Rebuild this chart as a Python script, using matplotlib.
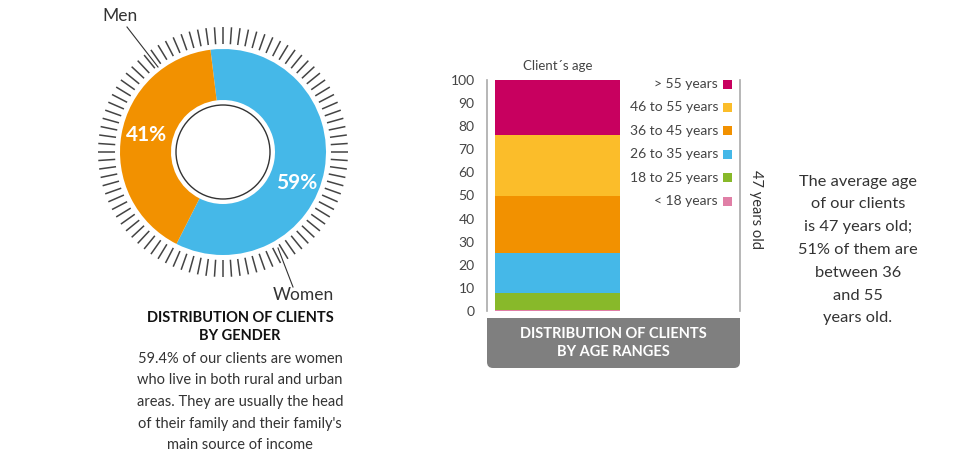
import numpy as np
import matplotlib
matplotlib.use("Agg")
import matplotlib.pyplot as plt
from matplotlib.patches import Circle, Rectangle, FancyBboxPatch

plt.rcParams['font.family'] = ['Lato', 'DejaVu Sans']

# data
gender_labels = ["Women", "Men"]
gender_share = [59.4, 40.6]
gender_pct_text = ["59%", "41%"]
gender_colors = ["#45b8e8", "#f29100"]

age_ranges = ["< 18 years", "18 to 25 years", "26 to 35 years",
              "36 to 45 years", "46 to 55 years", "> 55 years"]
age_share = [0.6, 7.4, 17, 25, 26, 24]
age_colors = ["#e07fa6", "#88b92a", "#45b8e8", "#f29100", "#fbbd2a", "#c8005f"]
y_ticks = list(range(0, 101, 10))

W, H = 960, 462
fig = plt.figure(figsize=(W / 100, H / 100), dpi=100)


def box(x, y, w, h):
    # pixel box (top-left origin) -> figure fraction
    return [x / W, 1 - (y + h) / H, w / W, h / H]


txt = "#333333"

# ---- donut ----
cx, cy, half = 223, 152, 150
ax1 = fig.add_axes(box(cx - half, cy - half, 2 * half, 2 * half))
wedges, _ = ax1.pie(gender_share, colors=gender_colors, startangle=97,
                    counterclock=False, radius=103,
                    wedgeprops=dict(width=51, edgecolor="none"))
ax1.set_xlim(-half, half)
ax1.set_ylim(-half, half)
ax1.set_aspect("equal")
ax1.axis("off")
ax1.add_patch(Circle((0, 0), 47, facecolor="white", edgecolor="#333333", lw=1))
for a in np.linspace(0, 2 * np.pi, 92, endpoint=False):
    ax1.plot([108 * np.cos(a), 125 * np.cos(a)], [108 * np.sin(a), 125 * np.sin(a)],
             color="#444444", lw=1.1, solid_capstyle="butt")
ax1.text(74, -31, gender_pct_text[0], color="white", fontsize=15, fontweight="bold",
         ha="center", va="center")
ax1.text(-76, 17, gender_pct_text[1], color="white", fontsize=15, fontweight="bold",
         ha="center", va="center")
ax1.plot([-96, -65], [125, 85], color="#333333", lw=0.8)
ax1.plot([55, 70], [-96, -135], color="#333333", lw=0.8)
ax1.text(-103, 136, gender_labels[1], fontsize=12.5, color=txt, ha="center", va="center",
         clip_on=False)
ax1.text(80, -143, gender_labels[0], fontsize=12.5, color=txt, ha="center", va="center",
         clip_on=False)

# ---- stacked bar ----
ax2 = fig.add_axes(box(487, 80, 253, 231))
ax2.patch.set_visible(False)
bottom = 0
for share, col in zip(age_share, age_colors):
    ax2.bar(2.79, share, width=4.94, bottom=bottom, color=col, edgecolor="none")
    bottom += share
ax2.set_xlim(0, 10)
ax2.set_ylim(0, 100)
ax2.set_yticks(y_ticks)
ax2.set_yticklabels([str(v) for v in y_ticks])
ax2.tick_params(axis="y", length=0, pad=9, labelsize=10, labelcolor="#444444")
ax2.set_xticks([])
for s in ["top", "bottom"]:
    ax2.spines[s].set_visible(False)
for s in ["left", "right"]:
    ax2.spines[s].set_color("#aaaaaa")
    ax2.spines[s].set_linewidth(1.2)
ax2.text(0.28, 1.06, "Client\u00b4s age", transform=ax2.transAxes, fontsize=9.5,
         color="#444444", ha="center", va="center")

# overlay axes in pixel coords for free text
bg = fig.add_axes([0, 0, 1, 1], zorder=5)
bg.set_xlim(0, W)
bg.set_ylim(H, 0)
bg.axis("off")

bg.text(240, 327, "DISTRIBUTION OF CLIENTS\nBY GENDER", ha="center", va="center",
        fontsize=10.5, fontweight="bold", color="#111111", linespacing=1.3)
bg.text(240, 402, "59.4% of our clients are women\nwho live in both rural and urban\n"
        "areas. They are usually the head\nof their family and their family's\n"
        "main source of income", ha="center", va="center", fontsize=10.5,
        color=txt, linespacing=1.7)

# legend, top row is the oldest range
for i, (lab, col) in enumerate(zip(age_ranges[::-1], age_colors[::-1])):
    y = 84 + 23.4 * i
    bg.text(718, y, lab, ha="right", va="center", fontsize=10, color="#444444")
    bg.add_patch(Rectangle((723, y - 4.5), 9, 9, facecolor=col, edgecolor="none"))

bg.text(756, 210, "47 years old", rotation=-90, ha="center", va="center",
        fontsize=10.5, color=txt)

# gray caption box
bg.add_patch(FancyBboxPatch((487, 318), 253, 50, boxstyle="round,pad=0,rounding_size=6",
                            facecolor="#7f7f7f", edgecolor="none"))
bg.add_patch(Rectangle((487, 318), 253, 20, facecolor="#7f7f7f", edgecolor="none"))
bg.text(613, 343, "DISTRIBUTION OF CLIENTS\nBY AGE RANGES", ha="center", va="center",
        fontsize=10.5, fontweight="bold", color="white", linespacing=1.3)

bg.text(858, 250, "The average age\nof our clients\nis 47 years old;\n51% of them are\n"
        "between 36\nand 55\nyears old.", ha="center", va="center", fontsize=11.8,
        color=txt, linespacing=1.8)

fig.savefig("out.png", dpi=100)
